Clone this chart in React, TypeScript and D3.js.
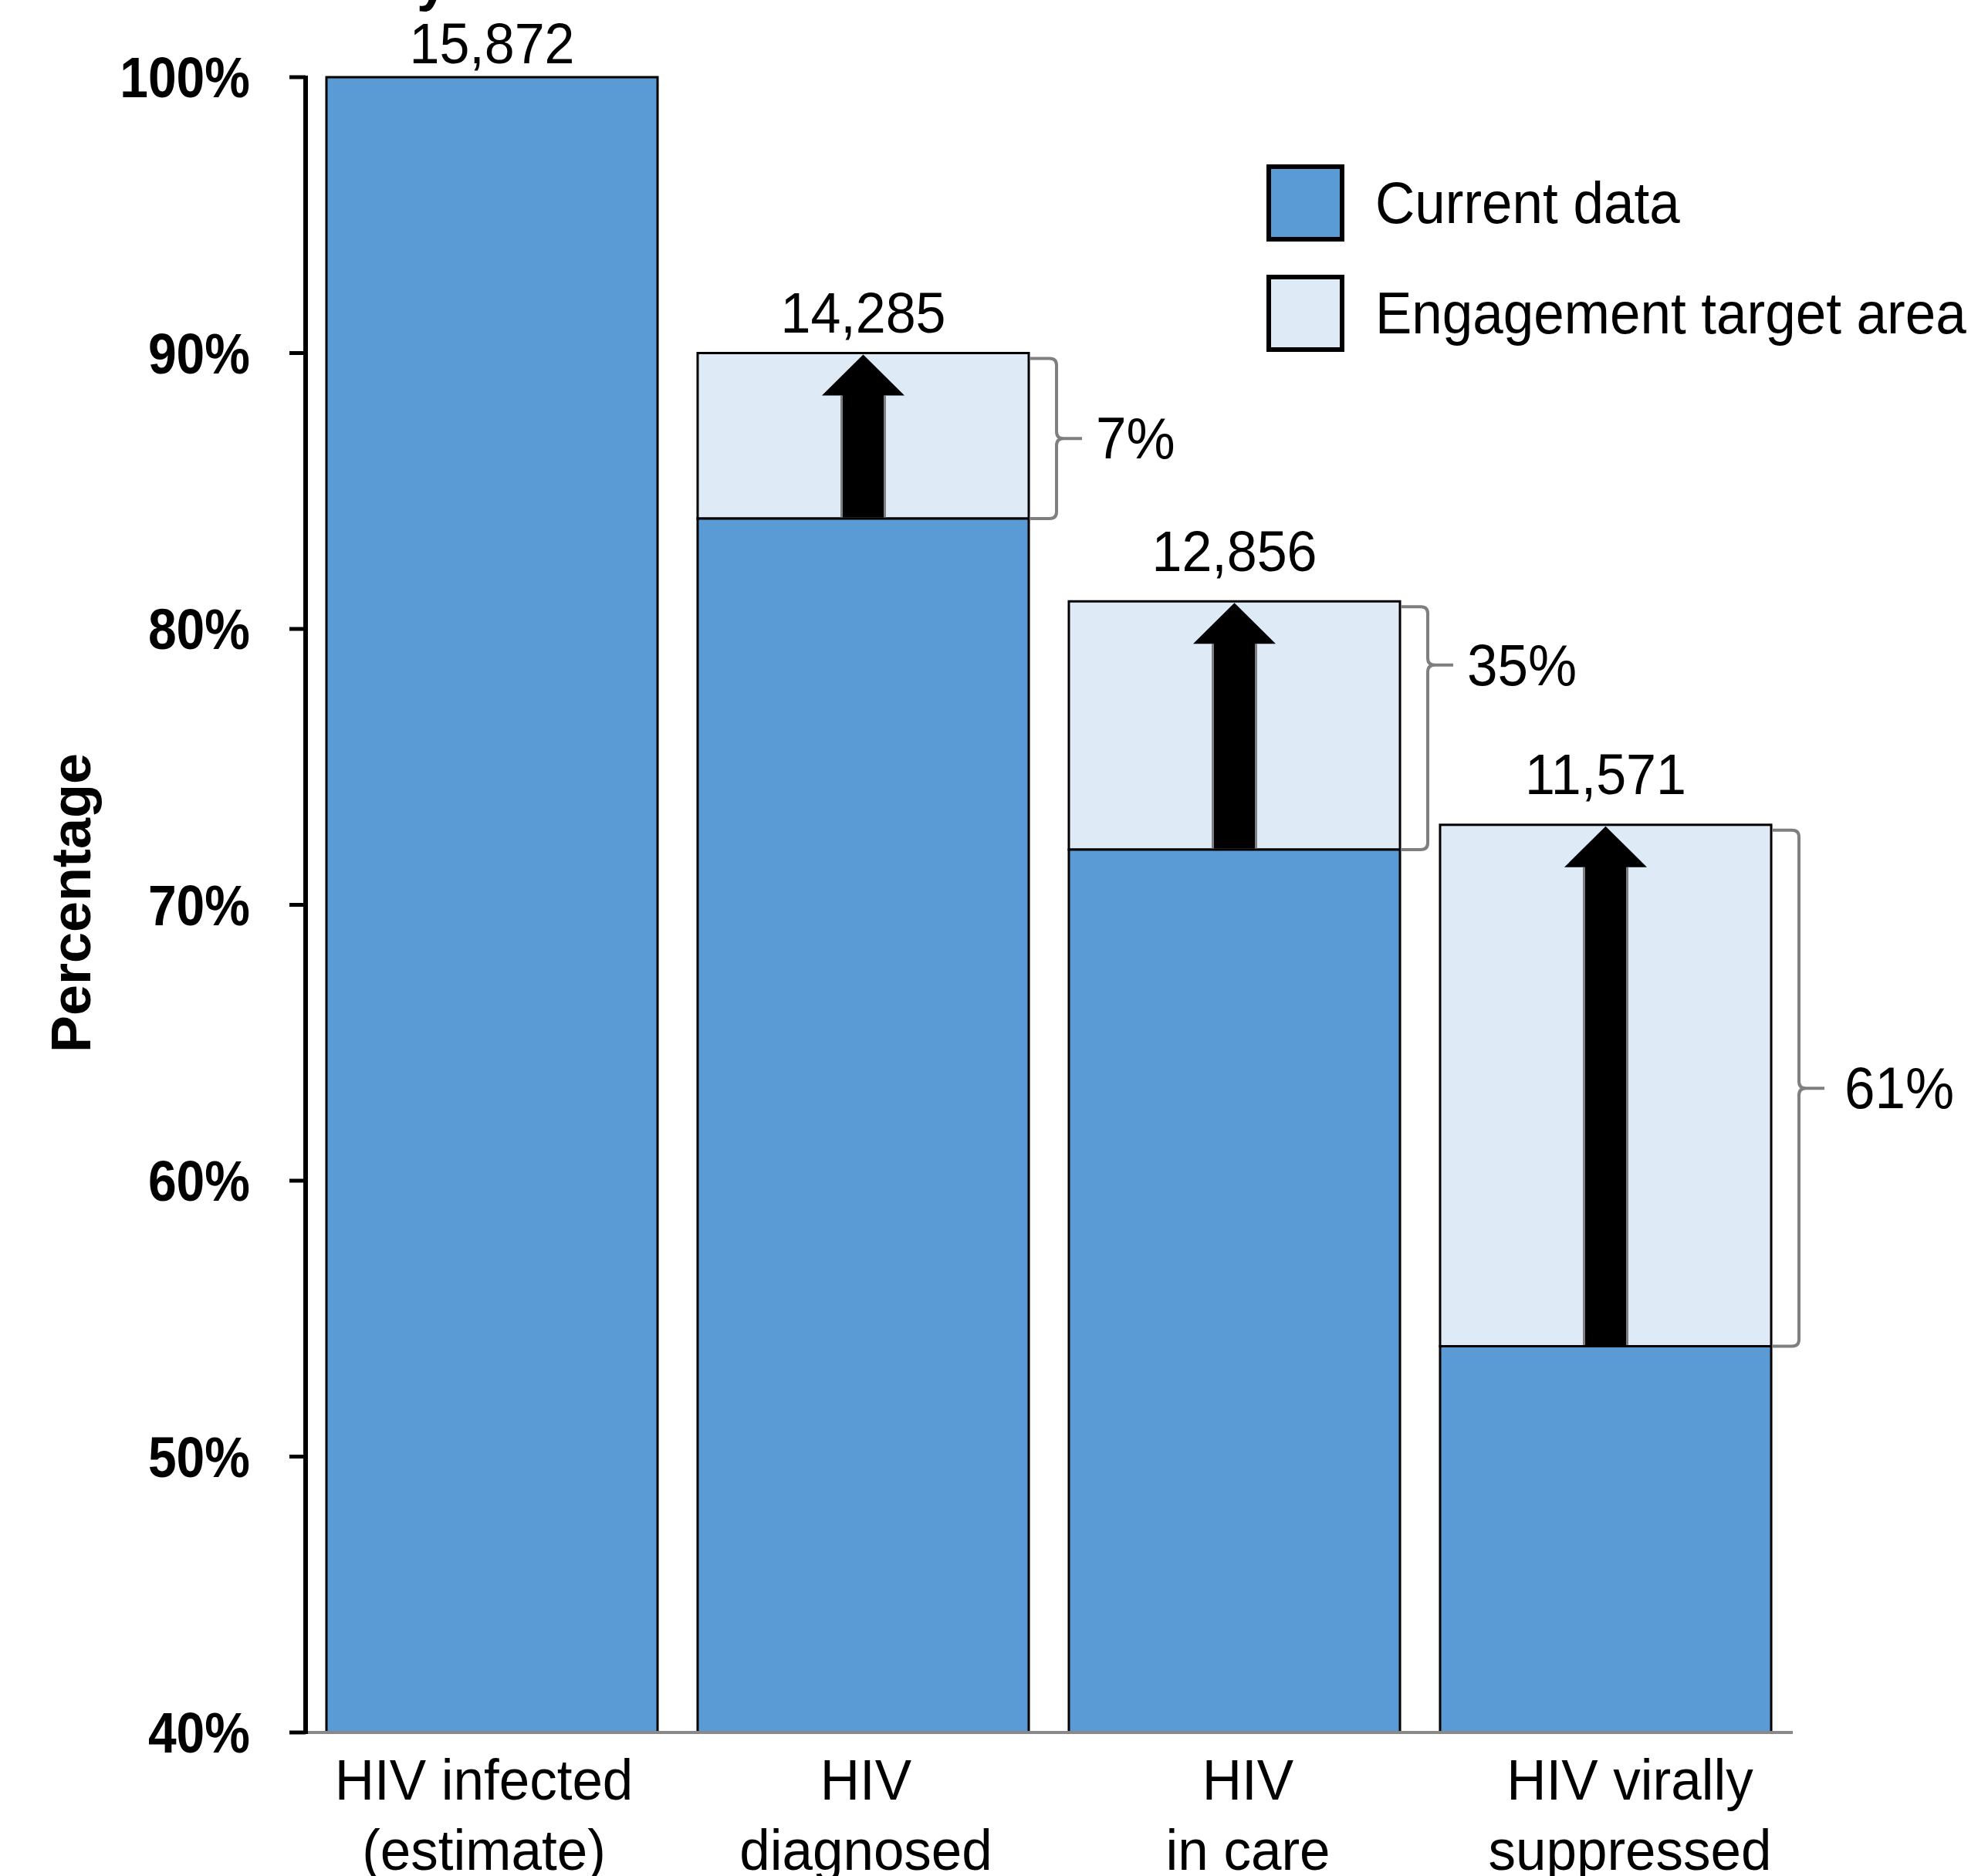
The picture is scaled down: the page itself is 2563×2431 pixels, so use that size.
import React from "react";
import * as d3 from "d3";

const categories: string[][] = [
  ["HIV infected", "(estimate)"],
  ["HIV", "diagnosed"],
  ["HIV", "in care"],
  ["HIV virally", "suppressed"],
];
const counts = [15872, 14285, 12856, 11571];
const currentPct = [100, 84, 72, 54];
const targetPct: (number | null)[] = [null, 90, 81, 72.9];
const gapLabels: (string | null)[] = [null, "7%", "35%", "61%"];
const bracketNubFrac = [0.5, 0.5, 0.24, 0.5];
const yTicks = [40, 50, 60, 70, 80, 90, 100];
const labelOffsets = [18, 27, 39, 40];
const gapLabelDx = [86, 86, 86, 94];
const legendItems = ["Current data", "Engagement target area"];

const W = 2563;
const H = 2431;
const DARK = "#5B9BD5";
const LIGHT = "#DEEAF6";
const FONT = "'Liberation Sans', Arial, sans-serif";

export default function App() {
  const idx = d3.range(categories.length);
  const x = d3
    .scaleBand<number>()
    .domain(idx)
    .range([397, 2321])
    .paddingInner(0.108)
    .paddingOuter(0.054);
  const xLab = d3.scalePoint<number>().domain(idx).range([627, 2112]);
  const y = d3.scaleLinear().domain([40, 100]).range([2245, 100]);
  const fmt = d3.format(",");
  const bw = x.bandwidth();

  const sText = (tx: number, ty: number, k: number) =>
    `translate(${tx},${ty}) scale(1,${k})`;

  return (
    <svg
      width={W}
      height={H}
      style={{ position: "absolute", left: 0, top: 0, background: "#fff" }}
      fontFamily={FONT}
    >
      <rect x={0} y={0} width={W} height={H} fill="#fff" />
      {/* partial title glyph cut at top */}
      <text transform={sText(540, 0, 1)} fontSize={72} fontWeight="bold">
        y
      </text>

      {/* bars */}
      {idx.map((i) => {
        const x0 = x(i)!;
        const cur = currentPct[i];
        const tgt = targetPct[i];
        return (
          <g key={"bar" + i}>
            {tgt !== null && (
              <rect
                x={x0}
                y={y(tgt)}
                width={bw}
                height={y(cur) - y(tgt)}
                fill={LIGHT}
                stroke="#000"
                strokeWidth={3}
              />
            )}
            <rect
              x={x0}
              y={y(cur)}
              width={bw}
              height={y(40) - y(cur)}
              fill={DARK}
              stroke="#000"
              strokeWidth={3}
            />
          </g>
        );
      })}

      {/* arrows */}
      {idx.map((i) => {
        const tgt = targetPct[i];
        if (tgt === null) return null;
        const cx = x(i)! + bw / 2;
        const tip = y(tgt) + 2;
        const base = y(currentPct[i]) - 1.5;
        const hw = 53.5;
        const hh = 53;
        const sw = 28;
        const d = `M${cx},${tip} L${cx + hw},${tip + hh} L${cx + sw},${tip + hh} L${cx + sw},${base} L${cx - sw},${base} L${cx - sw},${tip + hh} L${cx - hw},${tip + hh} Z`;
        return (
          <g key={"arr" + i}>
            <path d={d} fill="#000" />
            <line x1={cx - sw} x2={cx - sw} y1={tip + hh} y2={base} stroke="#7f7f7f" strokeWidth={3} />
            <line x1={cx + sw} x2={cx + sw} y1={tip + hh} y2={base} stroke="#7f7f7f" strokeWidth={3} />
          </g>
        );
      })}

      {/* brackets */}
      {idx.map((i) => {
        const tgt = targetPct[i];
        if (tgt === null) return null;
        const x0 = x(i)! + bw + 1;
        const xv = x0 + 35;
        const xn = x0 + 68;
        const yt = y(tgt) + 7;
        const yb = y(currentPct[i]);
        const ym = yt + (yb - yt) * bracketNubFrac[i];
        const r = 9;
        const d = `M${x0},${yt} H${xv - r} Q${xv},${yt} ${xv},${yt + r} V${ym - r} Q${xv},${ym} ${xv + r},${ym} H${xn} M${xv + r},${ym} Q${xv},${ym} ${xv},${ym + r} V${yb - r} Q${xv},${yb} ${xv - r},${yb} H${x0}`;
        return (
          <g key={"br" + i}>
            <path d={d} fill="none" stroke="#7f7f7f" strokeWidth={4} />
            <text
              transform={sText(x0 + gapLabelDx[i], ym + 26, 1.07)}
              fontSize={71}
              fill="#000"
            >
              {gapLabels[i]}
            </text>
          </g>
        );
      })}

      {/* count labels */}
      {idx.map((i) => {
        const top = targetPct[i] ?? currentPct[i];
        return (
          <text
            key={"cnt" + i}
            transform={sText(x(i)! + bw / 2, y(top) - labelOffsets[i], 1.07)}
            textAnchor="middle"
            fontSize={70}
          >
            {fmt(counts[i])}
          </text>
        );
      })}

      {/* axes */}
      <line x1={397} x2={2323} y1={y(40)} y2={y(40)} stroke="#898989" strokeWidth={4} />
      <line x1={396} x2={396} y1={y(100) - 2} y2={y(40) + 2} stroke="#000" strokeWidth={6} />
      {yTicks.map((t) => (
        <g key={"t" + t}>
          <line x1={375} x2={396} y1={y(t)} y2={y(t)} stroke="#000" strokeWidth={5} />
          <text
            transform={sText(324, y(t) + 26, 1.12)}
            textAnchor="end"
            fontSize={66}
            fontWeight="bold"
          >
            {t + "%"}
          </text>
        </g>
      ))}

      {/* category labels */}
      {categories.map((lines, i) => (
        <g key={"cat" + i}>
          {lines.map((ln, j) => (
            <text
              key={j}
              transform={sText(xLab(i)!, 2332 + j * 91, 1.05)}
              textAnchor="middle"
              fontSize={71}
            >
              {ln}
            </text>
          ))}
        </g>
      ))}

      {/* y axis title */}
      <text
        transform="translate(117,1170) rotate(-90)"
        textAnchor="middle"
        fontSize={72}
        fontWeight="bold"
      >
        Percentage
      </text>

      {/* legend */}
      {legendItems.map((lab, i) => (
        <g key={"lg" + i}>
          <rect
            x={1644}
            y={216 + i * 143}
            width={95}
            height={94}
            fill={i === 0 ? DARK : LIGHT}
            stroke="#000"
            strokeWidth={6}
          />
          <text
            transform={sText(1782, 289 + i * 143, 1.06)}
            fontSize={71}
          >
            {lab}
          </text>
        </g>
      ))}
    </svg>
  );
}
